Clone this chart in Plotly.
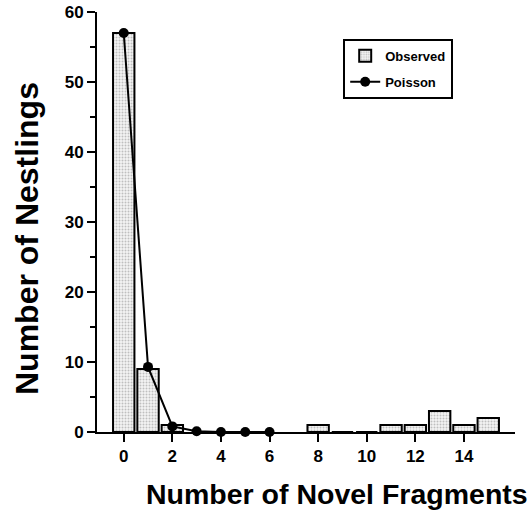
import plotly.graph_objects as go

fragments = [0, 1, 2, 3, 4, 5, 6, 7, 8, 9, 10, 11, 12, 13, 14, 15]
observed = [57, 9, 1, None, None, None, None, None, 1, 0, 0, 1, 1, 3, 1, 2]
poisson_x = [0, 1, 2, 3, 4, 5, 6]
poisson_y = [57, 9.3, 0.8, 0.1, 0.01, 0, 0]
x_ticks = [0, 2, 4, 6, 8, 10, 12, 14]
y_ticks = [0, 10, 20, 30, 40, 50, 60]
x_title = "Number of Novel Fragments"
y_title = "Number of Nestlings"

font_family = "Liberation Sans, Arial, sans-serif"

fig = go.Figure()
fig.add_trace(go.Bar(
    x=fragments, y=observed, name="Observed", width=0.88, legendgroup="obs",
    marker=dict(color="#f4f4f4", line=dict(color="black", width=2),
                pattern=dict(shape=".", fgcolor="#8a8a8a", bgcolor="#f4f4f4",
                             size=3, solidity=0.35)),
    cliponaxis=False,
))
fig.add_trace(go.Scatter(
    x=poisson_x, y=poisson_y, name="Poisson", mode="lines+markers",
    legendgroup="poi",
    line=dict(color="black", width=2),
    marker=dict(color="black", size=10),
    cliponaxis=False,
))

fig.update_layout(
    width=531, height=514,
    margin=dict(l=97, r=16, t=12, b=82),
    plot_bgcolor="white", paper_bgcolor="white",
    font=dict(family=font_family, color="black"),
    showlegend=True,
    legend=dict(x=0.589, y=0.936, xanchor="left", yanchor="top",
                bordercolor="black", borderwidth=2, bgcolor="white",
                font=dict(size=13, family=font_family, weight="bold"),
                tracegroupgap=6),
    bargap=0.1,
    annotations=[
        dict(text=x_title, xref="paper", yref="paper", x=0.574, y=-0.148,
             xanchor="center", yanchor="middle", showarrow=False,
             font=dict(size=28.5, family=font_family, weight="bold")),
        dict(text=y_title, xref="paper", yref="paper", x=-0.167, y=0.46,
             xanchor="center", yanchor="middle", showarrow=False, textangle=-90,
             font=dict(size=32, family=font_family, weight="bold")),
    ],
)
fig.update_xaxes(
    range=[-1.1, 16.1], tickvals=x_ticks, ticktext=[str(v) for v in x_ticks],
    showline=True, linecolor="black", linewidth=2, ticks="outside",
    ticklen=8, tickwidth=2, tickcolor="black", showgrid=False, zeroline=False,
    tickfont=dict(size=17, family=font_family, weight="bold"),
    automargin=False,
)
fig.update_yaxes(
    range=[0, 60], tickvals=y_ticks, ticktext=[str(v) for v in y_ticks],
    showline=True, linecolor="black", linewidth=2, ticks="outside",
    ticklen=8, tickwidth=2, tickcolor="black", showgrid=False, zeroline=False,
    minor=dict(tickvals=[5, 15, 25, 35, 45, 55], ticks="outside", ticklen=5,
               tickwidth=2, tickcolor="black"),
    tickfont=dict(size=17, family=font_family, weight="bold"),
    automargin=False,
)

fig.write_html("out.html", config={"displayModeBar": False},
               post_script="document.body.style.margin='0';")
